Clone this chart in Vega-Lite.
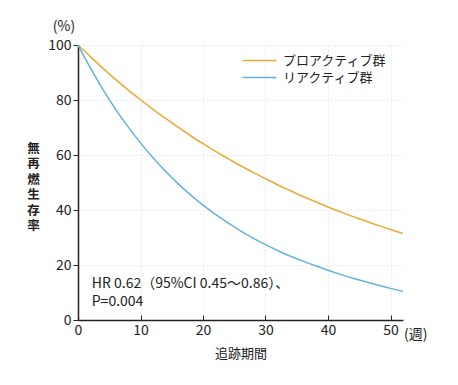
{
  "$schema": "https://vega.github.io/schema/vega-lite/v6.json",
  "autosize": "none",
  "width": 325,
  "height": 275,
  "padding": {"left": 78, "top": 45, "right": 55, "bottom": 65},
  "background": "white",
  "config": {
    "font": "Noto Sans CJK JP",
    "view": {"stroke": null},
    "axis": {"labelFont": "Noto Sans CJK JP", "titleFont": "Noto Sans CJK JP"}
  },
  "datasets": {
    "curves": [
      {"week": 0, "s": 100, "group": "プロアクティブ群"},
      {"week": 2, "s": 95.7, "group": "プロアクティブ群"},
      {"week": 4, "s": 91.5, "group": "プロアクティブ群"},
      {"week": 6, "s": 87.5, "group": "プロアクティブ群"},
      {"week": 8, "s": 83.7, "group": "プロアクティブ群"},
      {"week": 10, "s": 80.1, "group": "プロアクティブ群"},
      {"week": 12, "s": 76.6, "group": "プロアクティブ群"},
      {"week": 14, "s": 73.3, "group": "プロアクティブ群"},
      {"week": 16, "s": 70.1, "group": "プロアクティブ群"},
      {"week": 18, "s": 67.0, "group": "プロアクティブ群"},
      {"week": 20, "s": 64.1, "group": "プロアクティブ群"},
      {"week": 22, "s": 61.3, "group": "プロアクティブ群"},
      {"week": 24, "s": 58.7, "group": "プロアクティブ群"},
      {"week": 26, "s": 56.1, "group": "プロアクティブ群"},
      {"week": 28, "s": 53.7, "group": "プロアクティブ群"},
      {"week": 30, "s": 51.4, "group": "プロアクティブ群"},
      {"week": 32, "s": 49.1, "group": "プロアクティブ群"},
      {"week": 34, "s": 47.0, "group": "プロアクティブ群"},
      {"week": 36, "s": 44.9, "group": "プロアクティブ群"},
      {"week": 38, "s": 43.0, "group": "プロアクティブ群"},
      {"week": 40, "s": 41.1, "group": "プロアクティブ群"},
      {"week": 42, "s": 39.3, "group": "プロアクティブ群"},
      {"week": 44, "s": 37.6, "group": "プロアクティブ群"},
      {"week": 46, "s": 36.0, "group": "プロアクティブ群"},
      {"week": 48, "s": 34.4, "group": "プロアクティブ群"},
      {"week": 50, "s": 32.9, "group": "プロアクティブ群"},
      {"week": 52, "s": 31.5, "group": "プロアクティブ群"},
      {"week": 0, "s": 100, "group": "リアクティブ群"},
      {"week": 2, "s": 91.6, "group": "リアクティブ群"},
      {"week": 4, "s": 83.8, "group": "リアクティブ群"},
      {"week": 6, "s": 76.7, "group": "リアクティブ群"},
      {"week": 8, "s": 70.3, "group": "リアクティブ群"},
      {"week": 10, "s": 64.4, "group": "リアクティブ群"},
      {"week": 12, "s": 59.0, "group": "リアクティブ群"},
      {"week": 14, "s": 54.1, "group": "リアクティブ群"},
      {"week": 16, "s": 49.6, "group": "リアクティブ群"},
      {"week": 18, "s": 45.5, "group": "リアクティブ群"},
      {"week": 20, "s": 41.8, "group": "リアクティブ群"},
      {"week": 22, "s": 38.4, "group": "リアクティブ群"},
      {"week": 24, "s": 35.3, "group": "リアクティブ群"},
      {"week": 26, "s": 32.4, "group": "リアクティブ群"},
      {"week": 28, "s": 29.8, "group": "リアクティブ群"},
      {"week": 30, "s": 27.4, "group": "リアクティブ群"},
      {"week": 32, "s": 25.2, "group": "リアクティブ群"},
      {"week": 34, "s": 23.2, "group": "リアクティブ群"},
      {"week": 36, "s": 21.4, "group": "リアクティブ群"},
      {"week": 38, "s": 19.7, "group": "リアクティブ群"},
      {"week": 40, "s": 18.1, "group": "リアクティブ群"},
      {"week": 42, "s": 16.6, "group": "リアクティブ群"},
      {"week": 44, "s": 15.2, "group": "リアクティブ群"},
      {"week": 46, "s": 13.9, "group": "リアクティブ群"},
      {"week": 48, "s": 12.7, "group": "リアクティブ群"},
      {"week": 50, "s": 11.5, "group": "リアクティブ群"},
      {"week": 52, "s": 10.4, "group": "リアクティブ群"}
    ],
    "notes": [
      {"week": 2.2, "s": 15.6, "label": ["HR 0.62（95%CI 0.45～0.86）、", "P=0.004"]}
    ],
    "units": [
      {"week": 52, "s": 0, "label": "(週)", "kind": "x"},
      {"week": 0, "s": 100, "label": "(%)", "kind": "y"}
    ]
  },
  "layer": [
    {
      "data": {"name": "curves"},
      "mark": {"type": "line", "strokeWidth": 1.5, "interpolate": "monotone"},
      "encoding": {
        "x": {
          "field": "week",
          "type": "quantitative",
          "scale": {"domain": [0, 52], "nice": false},
          "axis": {
            "values": [0, 10, 20, 30, 40, 50],
            "title": "追跡期間",
            "titleFontSize": 13,
            "titleFontWeight": "normal",
            "titleColor": "#222",
            "titlePadding": 10,
            "labelFontSize": 14,
            "labelColor": "#222",
            "labelPadding": 8,
            "tickSize": -5,
            "tickColor": "#222",
            "domainColor": "#222",
            "domainWidth": 1.5,
            "grid": true,
            "gridColor": "#e8e8e8",
            "gridDash": [2, 2],
            "labelFlush": false
          }
        },
        "y": {
          "field": "s",
          "type": "quantitative",
          "scale": {"domain": [0, 100], "nice": false},
          "axis": {
            "values": [0, 20, 40, 60, 80, 100],
            "title": ["無", "再", "燃", "生", "存", "率"],
            "titleAngle": 0,
            "titleX": -45,
            "titleY": 97,
            "titleAlign": "center",
            "titleBaseline": "top",
            "titleLineHeight": 15.5,
            "titleFontSize": 12.5,
            "titleFontWeight": "bold",
            "titleColor": "#222",
            "labelFontSize": 14,
            "labelColor": "#222",
            "labelPadding": 2,
            "tickSize": 5,
            "tickColor": "#222",
            "domainColor": "#222",
            "domainWidth": 1.5,
            "grid": true,
            "gridColor": "#e8e8e8",
            "gridDash": [2, 2],
            "labelFlush": false
          }
        },
        "color": {
          "field": "group",
          "type": "nominal",
          "scale": {"domain": ["プロアクティブ群", "リアクティブ群"], "range": ["#EBA935", "#62B3E0"]},
          "legend": {
            "title": null,
            "orient": "none",
            "legendX": 175,
            "legendY": 9,
            "symbolType": "M-3,0H3",
            "symbolSize": 128,
            "symbolStrokeWidth": 1.5,
            "labelFontSize": 13,
            "labelColor": "#222",
            "labelOffset": 17,
            "rowPadding": 3,
            "padding": 0
          }
        }
      }
    },
    {
      "data": {"name": "notes"},
      "mark": {"type": "text", "align": "left", "baseline": "top", "fontSize": 14, "lineHeight": 18, "color": "#222"},
      "encoding": {
        "x": {"field": "week", "type": "quantitative"},
        "y": {"field": "s", "type": "quantitative"},
        "text": {"field": "label"}
      }
    },
    {
      "data": {"name": "units"},
      "transform": [{"filter": "datum.kind == 'x'"}],
      "mark": {"type": "text", "align": "left", "baseline": "middle", "fontSize": 14, "dx": 1, "dy": 15, "color": "#222"},
      "encoding": {
        "x": {"field": "week", "type": "quantitative"},
        "y": {"field": "s", "type": "quantitative"},
        "text": {"field": "label"}
      }
    },
    {
      "data": {"name": "units"},
      "transform": [{"filter": "datum.kind == 'y'"}],
      "mark": {"type": "text", "align": "center", "baseline": "middle", "fontSize": 14, "dx": -14, "dy": -18, "color": "#222", "clip": false},
      "encoding": {
        "x": {"field": "week", "type": "quantitative"},
        "y": {"field": "s", "type": "quantitative"},
        "text": {"field": "label"}
      }
    }
  ]
}
